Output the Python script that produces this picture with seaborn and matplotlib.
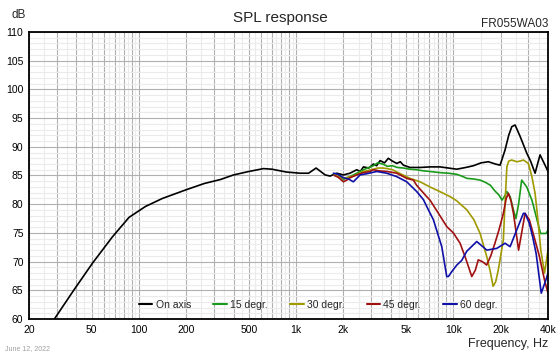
import numpy as np
import pandas as pd
import matplotlib
matplotlib.use("Agg")
import matplotlib.pyplot as plt
from matplotlib.ticker import NullFormatter, FixedFormatter
import seaborn as sns

# ---------------- data ----------------
on_f = [29, 38.7, 50.6, 67.8, 86.5, 110, 141, 199, 260, 330, 400, 500, 620, 700, 870, 1060, 1200,
        1340, 1530, 1645, 1770, 1813, 2000, 2200, 2430, 2560, 2680, 2900, 3100, 3250, 3420, 3650, 3860, 4100,
        4370, 4600, 4810, 5300, 6140, 7110, 8240, 9300, 10520, 12000, 13410, 15000, 16700, 18500, 19830,
        21300, 22500, 23530, 24700, 26600, 29300, 31000, 33100, 35600, 38000, 40000]
on_db = [60, 65.1, 69.7, 74.3, 77.7, 79.6, 81, 82.5, 83.6, 84.3, 85.1, 85.7, 86.2, 86.1, 85.6, 85.4, 85.4,
         86.3, 85.1, 84.9, 85.3, 85.4, 85.1, 85.4, 86, 85.7, 86.5, 86.3, 87, 86.7, 87.6, 87.2, 88, 87.5,
         87.1, 87.4, 86.8, 86.4, 86.4, 86.5, 86.5, 86.3, 86.1, 86.4, 86.7, 87.2, 87.4, 87, 86.8,
         89.4, 92, 93.5, 93.8, 91.8, 88.9, 87.5, 85.4, 88.6, 87, 85.7]

g_f = [1750, 1850, 2000, 2100, 2200, 2430, 2680, 2900, 3100, 3300, 3560, 3800, 4100, 4400, 4810, 5300,
       5840, 6500, 7110, 8240, 9300, 10520, 11300, 12200, 13400, 14800, 16000, 17200, 18400, 19500,
       20400, 21300, 21900, 23000, 24100, 25000, 26000, 27200, 29300, 31600, 32400, 34100, 35900,
       38900, 40000]
g_db = [85.2, 85.1, 84.3, 84.6, 84.8, 85.4, 86, 86.4, 86.7, 87.2, 87, 86.6, 86.7, 86.4, 86.3, 86.1,
        86, 85.8, 85.7, 85.5, 85.4, 85.2, 84.9, 84.5, 84.4, 84.2, 83.8, 83.3, 82.3, 81.6,
        80.7, 81.5, 82.2, 81.3, 79, 77.5, 80, 84.2, 83, 80.7, 79.6, 77.2, 74.9,
        74.9, 75.5]

o_f = [1750, 1850, 2000, 2150, 2310, 2500, 2680, 2900, 3100, 3300, 3560, 3800, 4100, 4540, 5300, 6140,
       7110, 8650, 9560, 10500, 12200, 13500, 14800, 16300, 17200, 17900, 18600, 19300, 20000, 20800,
       21300, 21900, 22500, 23500, 25300, 26500, 27900, 30000, 31600, 33100, 34000, 35000, 36000,
       38000, 40000]
o_db = [85.2, 84.9, 84.5, 84.7, 84.9, 85.3, 85.7, 85.9, 86.1, 86.3, 86.3, 86.2, 86, 85.4, 84.5, 83.9,
        83, 81.9, 81.3, 80.6, 79, 77.3, 74.9, 70.9, 68.2, 65.7, 66.5, 68.5, 71, 73.8,
        80, 86.5, 87.5, 87.7, 87.4, 87.5, 87.7, 87.1, 84.8, 81.9, 79, 75.5, 72,
        68, 72]

r_f = [1750, 1850, 2000, 2100, 2200, 2430, 2680, 2950, 3100, 3400, 3770, 4370, 5050, 5570, 5840, 6780,
       7110, 8000, 9080, 10000, 11040, 12000, 13100, 13800, 14400, 15300, 16300, 17300, 18390, 19500,
       20800, 21700, 22400, 23300, 24120, 25100, 26000, 27200, 28580, 30420, 32500, 35200, 38000, 40000]
r_db = [85, 84.7, 83.9, 84.2, 84.6, 85.1, 85.5, 85.7, 86, 85.8, 85.7, 85.4, 84.5, 84.2, 83.3, 81.3,
        80.7, 78.5, 76.1, 75, 73.2, 70.5, 67.4, 68.5, 70.3, 70, 69.4, 71, 73.2, 75.5,
        78.4, 81, 81.9, 80.5, 78.4, 75, 72, 75, 78.4, 77.3, 74.5, 71, 66.8, 64.5]

b_f = [1726, 1850, 2000, 2150, 2313, 2552, 2800, 3258, 3770, 4367, 5055, 5850, 6450, 6800, 7465, 8440,
       9080, 9300, 9800, 10520, 11300, 12170, 14090, 16320, 18880, 21330, 22960, 25290, 27880, 28580,
       30420, 31960, 33620, 36240, 39000, 40000]
b_db = [85.4, 85.2, 84.6, 84.4, 83.9, 85.1, 85.3, 85.7, 85.4, 84.8, 83.9, 82.2, 80.8, 79.5, 77.3, 72.6,
        67.4, 67.4, 68.3, 69.4, 70.2, 71.8, 73.5, 72, 72.3, 73.2, 72.6, 75.5, 78.4, 78.4,
        76.7, 74.3, 71.4, 64.5, 67, 68]

series_names = ["On axis", "15 degr.", "30 degr.", "45 degr.", "60 degr."]
series_colors = ["#000000", "#1a9a1a", "#a09a00", "#a01010", "#1010a8"]

x_tick_vals = [20, 50, 100, 200, 500, 1000, 2000, 5000, 10000, 20000, 40000]
x_tick_labels = ["20", "50", "100", "200", "500", "1k", "2k", "5k", "10k", "20k", "40k"]
y_ticks = list(range(60, 111, 5))

# -------------- build frame --------------
frames = []
for name, f, d in zip(series_names,
                      [on_f, g_f, o_f, r_f, b_f],
                      [on_db, g_db, o_db, r_db, b_db]):
    frames.append(pd.DataFrame({"freq": f, "spl": d, "series": name}))
df = pd.concat(frames, ignore_index=True)

sns.set_theme(style="white")
plt.rcParams["font.family"] = ["Liberation Sans", "DejaVu Sans"]

fig = plt.figure(figsize=(5.6, 3.56), dpi=100)
L, R, T, B = 29, 548, 32, 319
ax = fig.add_axes([L / 560, 1 - B / 356, (R - L) / 560, (B - T) / 356])

# grid lines
major_x = [m * 10 ** k for k in range(1, 5) for m in range(1, 10) if 20 <= m * 10 ** k <= 40000]
minor_x = [(m + 0.5) * 10 ** k for k in range(1, 5) for m in range(1, 10)
           if 20 <= (m + 0.5) * 10 ** k <= 40000]
ax.set_xscale("log")
ax.set_xlim(20, 40000)
ax.set_ylim(60, 110)
ax.set_xticks(major_x)
ax.set_xticks(minor_x, minor=True)
ax.xaxis.set_major_formatter(FixedFormatter(
    [x_tick_labels[x_tick_vals.index(v)] if v in x_tick_vals else "" for v in major_x]))
ax.xaxis.set_minor_formatter(NullFormatter())
ax.set_yticks(y_ticks)
ax.set_yticks(range(60, 111), minor=True)
ax.yaxis.set_minor_formatter(NullFormatter())
ax.grid(True, which="major", color="#b0b0b0", lw=0.8)
ax.grid(True, which="minor", color="#ebebeb", lw=0.8)
ax.set_axisbelow(True)
ax.tick_params(which="both", length=0, labelsize=7.5, colors="#000000", pad=4)

sns.lineplot(data=df, x="freq", y="spl", hue="series", hue_order=series_names,
             palette=series_colors, sort=False, estimator=None, lw=1.2, ax=ax)

for s in ax.spines.values():
    s.set_visible(True)
    s.set_color("black")
    s.set_linewidth(1.3)

ax.set_xlabel("")
ax.set_ylabel("")
leg = ax.legend(loc="lower center", bbox_to_anchor=(0.557, 0.0), ncol=5, frameon=False,
                fontsize=7.5, handlelength=1.3, handletextpad=0.3, columnspacing=2.15)
for line in leg.get_lines():
    line.set_linewidth(1.5)

fig.text(280 / 560, 1 - 18 / 356, "SPL response", ha="center", va="center", fontsize=11)
fig.text(12 / 560, 1 - 15 / 356, "dB", ha="left", va="center", fontsize=8.5)
fig.text(548 / 560, 1 - 24 / 356, "FR055WA03", ha="right", va="center", fontsize=8.5)
fig.text(548 / 560, 1 - 344 / 356, "Frequency, Hz", ha="right", va="center", fontsize=9)
fig.text(5 / 560, 1 - 349 / 356, "June 12, 2022", ha="left", va="center", fontsize=5, color="#a0a0a0")

fig.savefig("out.png", dpi=100)
